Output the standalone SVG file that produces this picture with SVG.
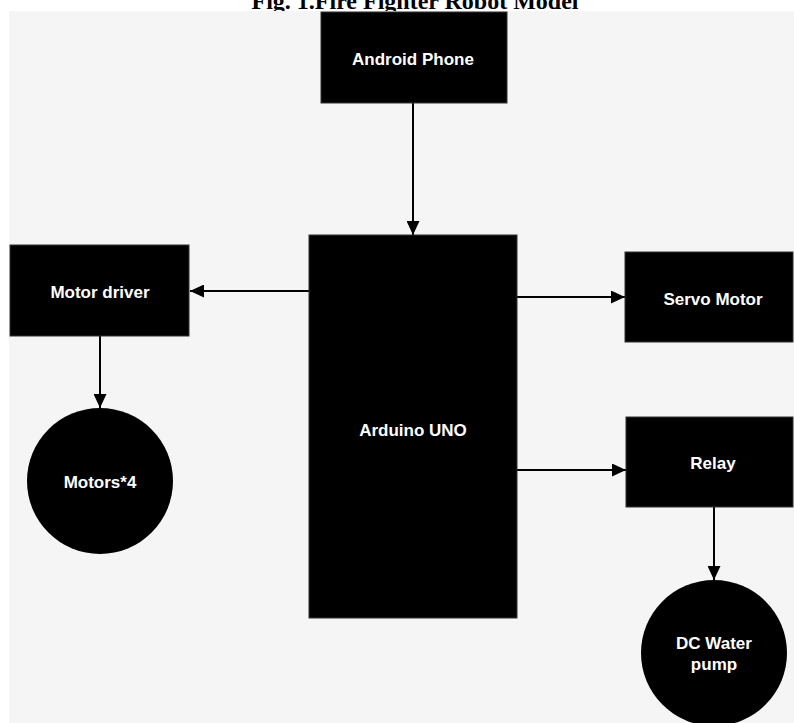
<svg xmlns="http://www.w3.org/2000/svg" width="794" height="723" viewBox="0 0 794 723">
<style>
.box{fill:#000;stroke:#333;stroke-width:1}
.lbl{fill:#fff;font-family:"Liberation Sans",Arial,sans-serif;font-weight:bold;font-size:17px;text-anchor:middle;dominant-baseline:central}
.con{stroke:#000;stroke-width:2;fill:none;marker-end:url(#ah)}
.title{font-family:"Liberation Serif","Times New Roman",serif;font-weight:bold;font-size:24px;text-anchor:middle}
</style>
<defs>
<marker id="ah" markerUnits="userSpaceOnUse" markerWidth="15" markerHeight="13" refX="14" refY="6.5" orient="auto">
<path d="M0,0 L14,6.5 L0,13 Z" fill="#000"/>
</marker>
</defs>
<rect x="0" y="0" width="794" height="723" fill="#fff"/>
<text class="title" x="415" y="9">Fig. 1.Fire Fighter Robot Model</text>
<rect x="9" y="11" width="785" height="712" fill="#f5f5f5"/>
<g id="connectors">
<line class="con" x1="413" y1="103" x2="413" y2="235"/>
<line class="con" x1="309" y1="291" x2="190" y2="291"/>
<line class="con" x1="100" y1="336" x2="100" y2="408"/>
<line class="con" x1="517" y1="297" x2="625" y2="297"/>
<line class="con" x1="517" y1="470" x2="626" y2="470"/>
<line class="con" x1="714" y1="507" x2="714" y2="580"/>
</g>
<g id="android">
<rect class="box" x="321" y="12" width="186" height="91"/>
<text class="lbl" x="413" y="59">Android Phone</text>
</g>
<g id="arduino">
<rect class="box" x="309" y="235" width="208" height="383"/>
<text class="lbl" x="413" y="430">Arduino UNO</text>
</g>
<g id="motor-driver">
<rect class="box" x="10" y="245" width="179" height="91"/>
<text class="lbl" x="100" y="292">Motor driver</text>
</g>
<g id="motors">
<circle cx="100" cy="481" r="73" fill="#000"/>
<text class="lbl" x="100" y="482">Motors*4</text>
</g>
<g id="servo">
<rect class="box" x="625" y="252" width="168" height="90"/>
<text class="lbl" x="713" y="299">Servo Motor</text>
</g>
<g id="relay">
<rect class="box" x="626" y="417" width="167" height="90"/>
<text class="lbl" x="713" y="463">Relay</text>
</g>
<g id="pump">
<circle cx="714" cy="653" r="73" fill="#000"/>
<text class="lbl" x="714" y="643">DC Water</text>
<text class="lbl" x="714" y="664">pump</text>
</g>
</svg>
